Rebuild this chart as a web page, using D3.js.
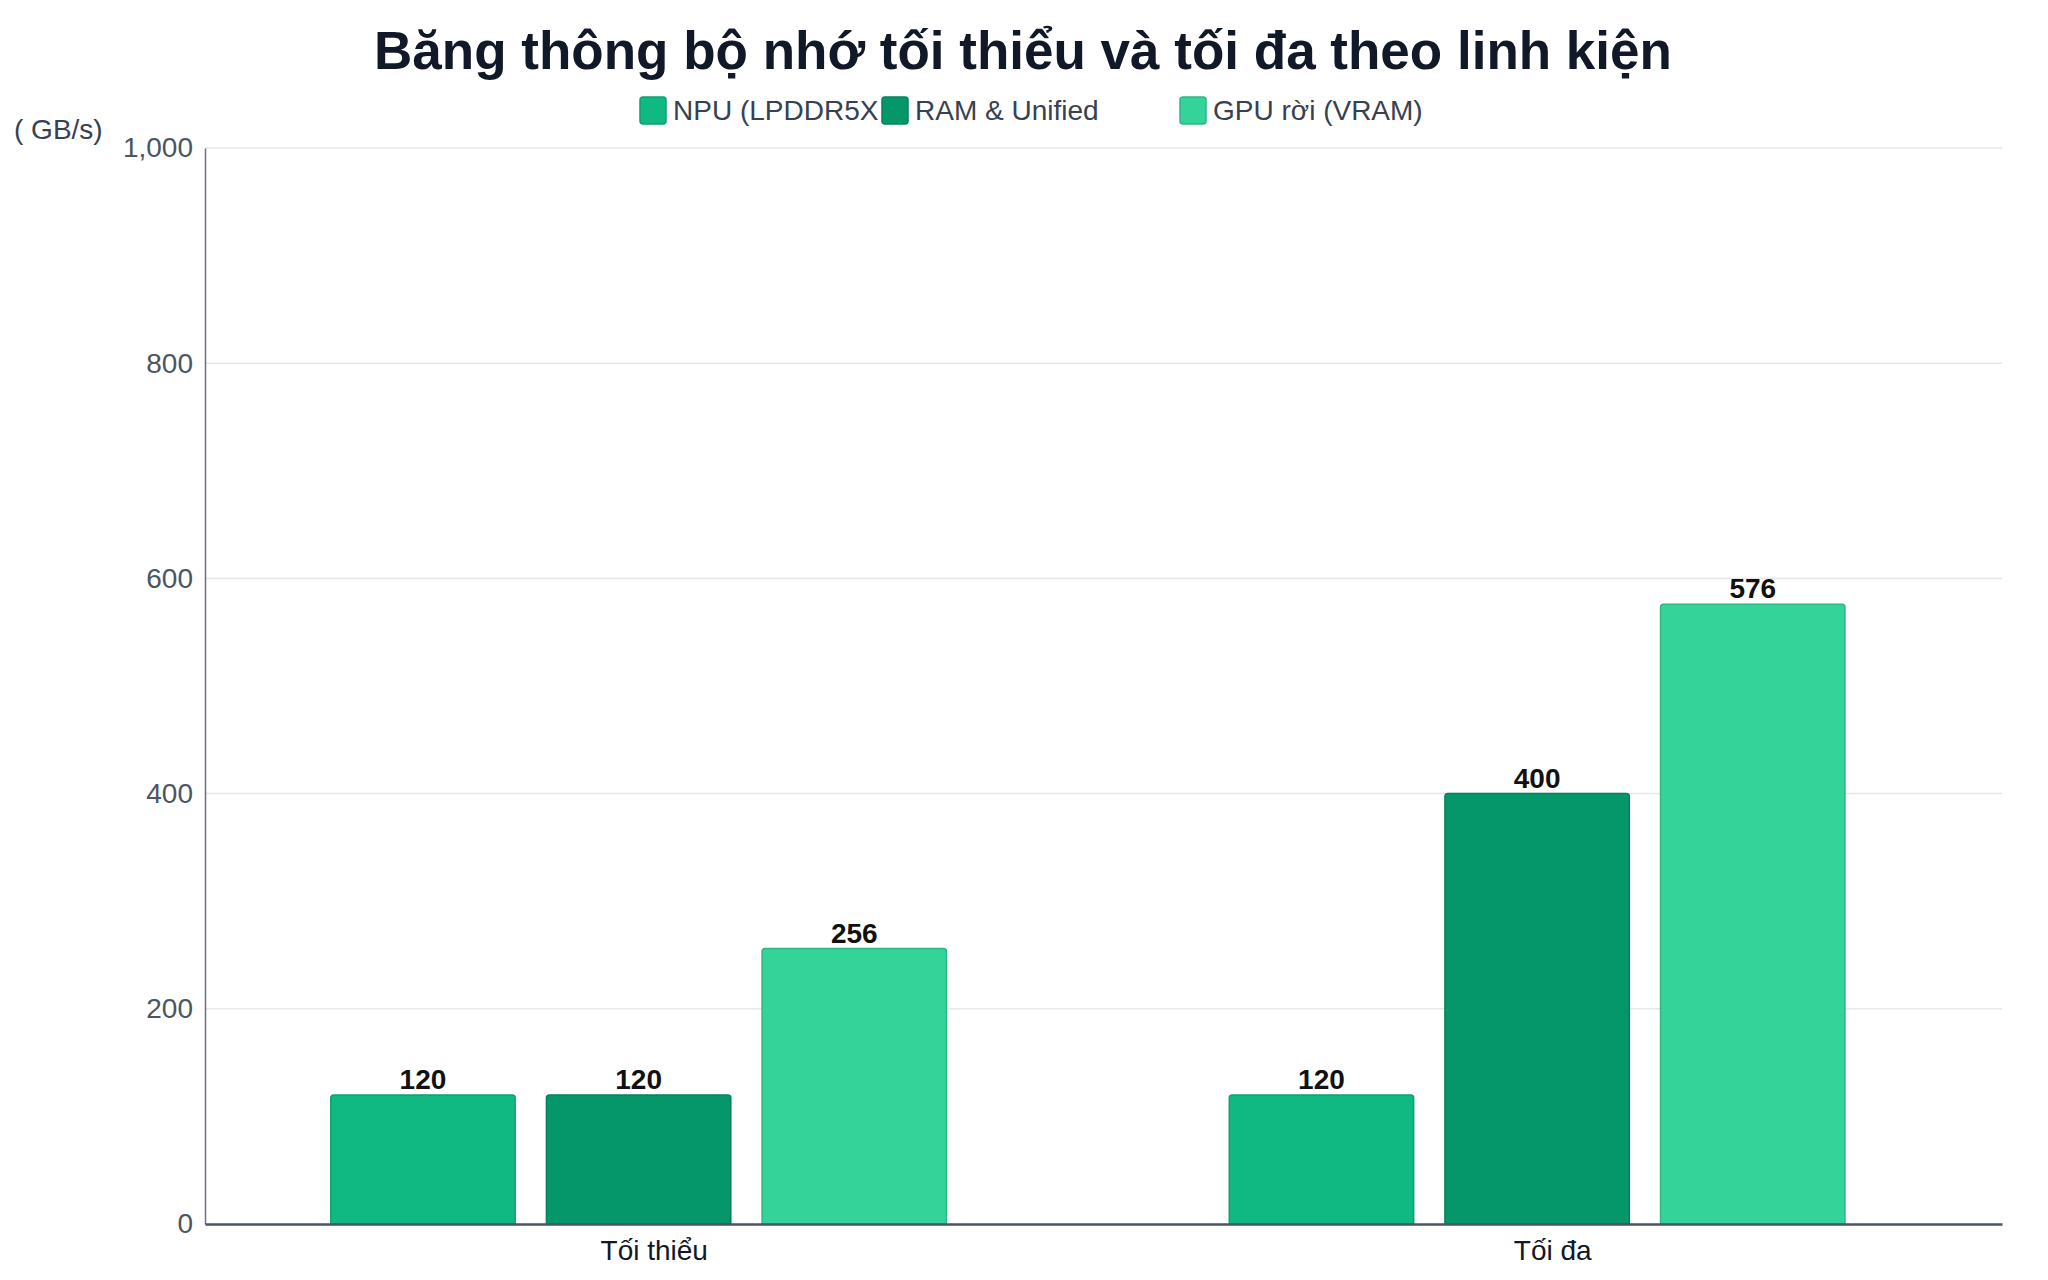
<!DOCTYPE html>
<html>
<head>
<meta charset="utf-8">
<script src="https://cdn.jsdelivr.net/npm/d3@7"></script>
<style>
  body { margin: 0; background: #fff; }
  svg { display: block; font-family: "Liberation Sans", Arial, sans-serif; }
</style>
</head>
<body>
<svg id="chart" width="2048" height="1280"></svg>
<script>
// data
const categories = ["Tối thiểu", "Tối đa"];
const seriesNames = ["NPU (LPDDR5X", "RAM & Unified", "GPU rời (VRAM)"];
const seriesColors = ["#10b981", "#059669", "#34d399"];
const npuValues = [120, 120];
const ramValues = [120, 400];
const gpuValues = [256, 576];
const yTicks = [0, 200, 400, 600, 800, 1000];

const seriesValues = [npuValues, ramValues, gpuValues];

const svg = d3.select("#chart");
const margin = { top: 148, right: 46, bottom: 56, left: 205 };
const width = 2048 - margin.left - margin.right;
const height = 1280 - margin.top - margin.bottom;

// title
svg.append("text")
    .attr("x", 1023).attr("y", 69)
    .attr("text-anchor", "middle")
    .attr("font-size", 53).attr("font-weight", "bold")
    .attr("fill", "#111827")
    .text("Băng thông bộ nhớ tối thiểu và tối đa theo linh kiện");

// legend
const legendX = [640, 882, 1180];
const legend = svg.append("g").selectAll("g")
    .data(seriesNames)
    .enter().append("g")
    .attr("transform", (d, i) => `translate(${legendX[i]},97)`);
legend.append("rect")
    .attr("width", 26).attr("height", 27).attr("rx", 3)
    .attr("fill", (d, i) => seriesColors[i])
    .attr("stroke", (d, i) => d3.color(seriesColors[i]).darker(0.4))
    .attr("stroke-width", 1.5);
legend.append("text")
    .attr("x", 33).attr("y", 23)
    .attr("font-size", 28).attr("fill", "#374151")
    .text(d => d);

// unit label
svg.append("text")
    .attr("x", 14).attr("y", 139)
    .attr("font-size", 28).attr("fill", "#374151")
    .text("( GB/s)");

const g = svg.append("g").attr("transform", `translate(${margin.left},${margin.top})`);

const x0 = d3.scaleBand().domain(categories).range([0, width])
    .paddingInner(0.28).paddingOuter(0.14);
const x1 = d3.scaleBand().domain(d3.range(seriesNames.length)).range([0, x0.bandwidth()]);
const y = d3.scaleLinear().domain([0, 1000]).range([height, 0]);

// gridlines
g.append("g").selectAll("line")
    .data(yTicks.filter(t => t > 0))
    .enter().append("line")
    .attr("x1", 0).attr("x2", width)
    .attr("y1", d => y(d)).attr("y2", d => y(d))
    .attr("stroke", "#e5e7eb").attr("stroke-width", 1.5);

// y axis
const yAxis = g.append("g")
    .call(d3.axisLeft(y).tickValues(yTicks).tickSize(0).tickPadding(12).tickFormat(d3.format(",")));
yAxis.select(".domain").attr("stroke", "#6b7280").attr("stroke-width", 1.5);
yAxis.selectAll("text")
    .attr("font-size", 28).attr("fill", "#4b5563")
    .attr("font-family", "Liberation Sans, Arial, sans-serif");

// bars
const barGap = x1.bandwidth() * 0.145;
const groups = g.append("g").selectAll("g")
    .data(categories)
    .enter().append("g")
    .attr("transform", d => `translate(${x0(d)},0)`);

const cells = groups.selectAll("g")
    .data((d, ci) => seriesValues.map((vals, si) => ({ si, v: vals[ci] })))
    .enter().append("g");

cells.append("path")
    .attr("d", d => {
        const bx = x1(d.si), bw = x1.bandwidth() - barGap;
        const top = y(d.v), bot = y(0), r = 3;
        return `M${bx},${bot}V${top + r}Q${bx},${top} ${bx + r},${top}H${bx + bw - r}Q${bx + bw},${top} ${bx + bw},${top + r}V${bot}Z`;
    })
    .attr("fill", d => seriesColors[d.si])
    .attr("stroke", d => d3.color(seriesColors[d.si]).darker(0.4))
    .attr("stroke-width", 1.5);

cells.append("text")
    .attr("x", d => x1(d.si) + (x1.bandwidth() - barGap) / 2)
    .attr("y", d => y(d.v) - 6)
    .attr("text-anchor", "middle")
    .attr("font-size", 28).attr("font-weight", "bold")
    .attr("fill", "#111111")
    .text(d => d.v);

// x axis
const xAxis = g.append("g")
    .attr("transform", `translate(0,${height})`)
    .call(d3.axisBottom(x0).tickSize(0).tickPadding(16));
xAxis.select(".domain").attr("stroke", "#4b5563").attr("stroke-width", 2.5);
xAxis.selectAll("text")
    .attr("font-size", 28).attr("fill", "#111827")
    .attr("font-family", "Liberation Sans, Arial, sans-serif");
</script>
</body>
</html>
